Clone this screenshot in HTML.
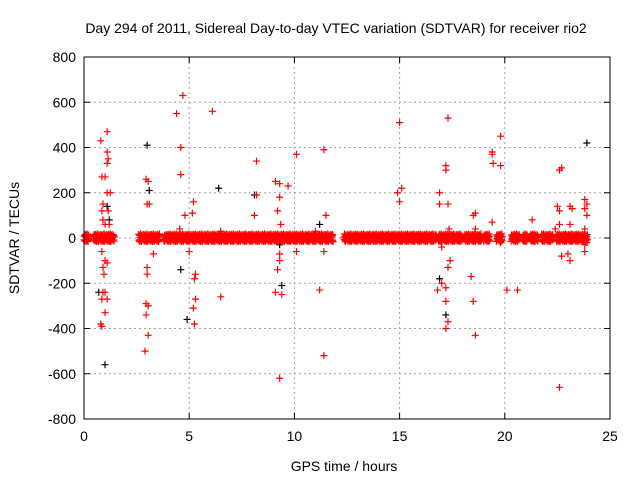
<!DOCTYPE html>
<html><head><meta charset="utf-8"><style>
body{margin:0;background:#fff;}
svg{display:block;font-family:"Liberation Sans",sans-serif;}
</style></head><body>
<svg id="chart" width="640" height="480" viewBox="0 0 640 480" xmlns="http://www.w3.org/2000/svg">
<rect width="640" height="480" fill="#fff"/>
<text x="336" y="33" font-size="14" text-anchor="middle" fill="#000">Day 294 of 2011, Sidereal Day-to-day VTEC variation (SDTVAR) for receiver rio2</text>
<g id="grid"></g><g id="ticks"></g><g id="pts"></g>
<rect x="84" y="57" width="526" height="362" fill="none" stroke="#000" stroke-width="1"/>
<text x="344" y="471" font-size="14" text-anchor="middle">GPS time / hours</text>
<text transform="translate(19,238) rotate(-90)" font-size="14" text-anchor="middle">SDTVAR / TECUs</text>
</svg>
<script>
const xTicks=[0,5,10,15,20,25];
const yTicks=[800,600,400,200,0,-200,-400,-600,-800];
const bandSegments=[[0.0,0.25],[0.45,1.45],[2.6,3.6],[3.8,11.85],[12.35,16.75],[16.85,18.0],[18.1,18.9],[19.0,19.3],[19.6,19.9],[20.3,20.7],[20.85,21.1],[21.2,21.6],[21.75,22.3],[22.45,23.95]];
const bandJitter=[-8,10,-14,5,16,-10,12,-16,3,-6,18,-12,8,-15,13,-4,0,7,-9,15];
const redT=[1.1,0.8,1.1,1.15,1.1,0.85,1.0,1.1,1.25,0.9,0.85,1.15,0.9,1.0,1.2,0.85,1.0,0.9,0.95,1.1,0.9,1.0,1.1,0.8,0.85,1.0,0.85,2.95,3.05,3.1,3.0,3.0,2.95,3.05,2.95,3.05,2.9,3.0,3.3,4.4,4.7,4.6,4.6,4.55,4.8,5.0,5.2,5.15,5.25,5.3,5.3,5.2,5.25,6.1,6.5,6.5,8.2,8.2,8.1,9.1,9.3,9.3,9.2,9.35,9.3,9.2,9.3,9.1,9.3,9.7,10.1,10.1,9.4,11.4,11.5,11.0,11.2,11.4,11.4,15.0,15.1,14.9,15.0,17.3,17.2,17.2,16.9,16.9,17.3,17.35,17.0,17.0,17.2,17.3,17.2,17.3,17.2,16.8,17.4,18.5,18.6,18.4,18.5,18.6,18.6,19.4,19.4,19.45,19.8,19.8,19.4,19.8,20.1,20.6,21.3,22.7,22.6,22.5,22.6,22.6,22.4,22.7,22.6,23.1,23.2,23.1,23.0,23.1,23.8,23.9,23.8,23.9,23.8,23.8,23.9,23.8];
const redV=[470,430,380,350,330,270,270,200,200,150,120,120,80,60,60,-60,-100,-130,-160,-110,-240,-240,-270,-380,-390,-330,-270,260,250,150,-130,-160,-290,-300,-340,-430,-500,150,-70,550,630,400,280,40,100,-60,160,110,-180,-160,-270,-310,-380,560,-260,30,340,190,100,250,240,180,120,60,-100,-140,-70,-240,-620,230,370,-60,-250,390,100,30,-230,-520,-60,510,220,200,160,530,320,300,200,150,150,40,-40,-200,-220,-130,-280,-370,-400,-230,-100,100,110,-170,-280,-430,40,380,370,330,450,320,70,-20,-230,-230,80,310,300,140,120,60,40,-80,-660,140,130,60,-70,-100,170,150,130,100,40,-30,-20,-60];
const blackT=[1.0,3.0,6.4,8.1,9.4,11.2,17.2,16.9,23.9,4.9,4.6,1.1,0.7,1.2,3.1,9.3];
const blackV=[-560,410,220,190,-210,60,-340,-180,420,-360,-140,140,-240,80,210,-30];
const L=84,R=610,T=57,B=419;
const xs=t=>L+(t-0)/(25-0)*(R-L);
const ys=v=>B-(v+800)/1600*(B-T);
const NS="http://www.w3.org/2000/svg";
function mk(tag,parent,attrs){const e=document.createElementNS(NS,tag);for(const k in attrs)e.setAttribute(k,attrs[k]);parent.appendChild(e);return e;}
const grid=document.getElementById('grid'),ticks=document.getElementById('ticks'),pts=document.getElementById('pts');
xTicks.forEach(t=>{const x=xs(t);
 if(t>0&&t<25){const g=mk('line',grid,{x1:x,x2:x,y1:T,y2:B,stroke:'#a0a0a0','stroke-dasharray':'2,3'});
 
 }
 mk('line',ticks,{x1:x,x2:x,y1:B,y2:B-6,stroke:'#000'});mk('line',ticks,{x1:x,x2:x,y1:T,y2:T+6,stroke:'#000'});
 const l=mk('text',ticks,{x:x,y:B+22,'font-size':14,'text-anchor':'middle'});l.textContent=t;
 
 });
yTicks.forEach(v=>{const y=ys(v);
 if(v>-800&&v<800){const g=mk('line',grid,{x1:L,x2:R,y1:y,y2:y,stroke:'#a0a0a0','stroke-dasharray':'2,3'});
 
 }
 mk('line',ticks,{x1:L,x2:L+6,y1:y,y2:y,stroke:'#000'});mk('line',ticks,{x1:R,x2:R-6,y1:y,y2:y,stroke:'#000'});
 const l=mk('text',ticks,{x:L-8,y:y+5,'font-size':14,'text-anchor':'end'});l.textContent=v;
 
 });
function plus(t,v,col,name){const x=xs(t),y=ys(v);
 const p=mk('path',pts,{d:`M${x-3.5},${y}h7M${x},${y-3.5}v7`,stroke:col,'stroke-width':1.2,fill:'none'});
 
 }
blackT.forEach((t,i)=>plus(t,blackV[i],'#000','black-series-point'));
let j=0;
bandSegments.forEach(s=>{for(let t=s[0];t<=s[1];t+=0.015){plus(t,bandJitter[j%bandJitter.length],'#f00','band-point');j++;}});
redT.forEach((t,i)=>plus(t,redV[i],'#f00','red-series-point'));
</script>
</body></html>
